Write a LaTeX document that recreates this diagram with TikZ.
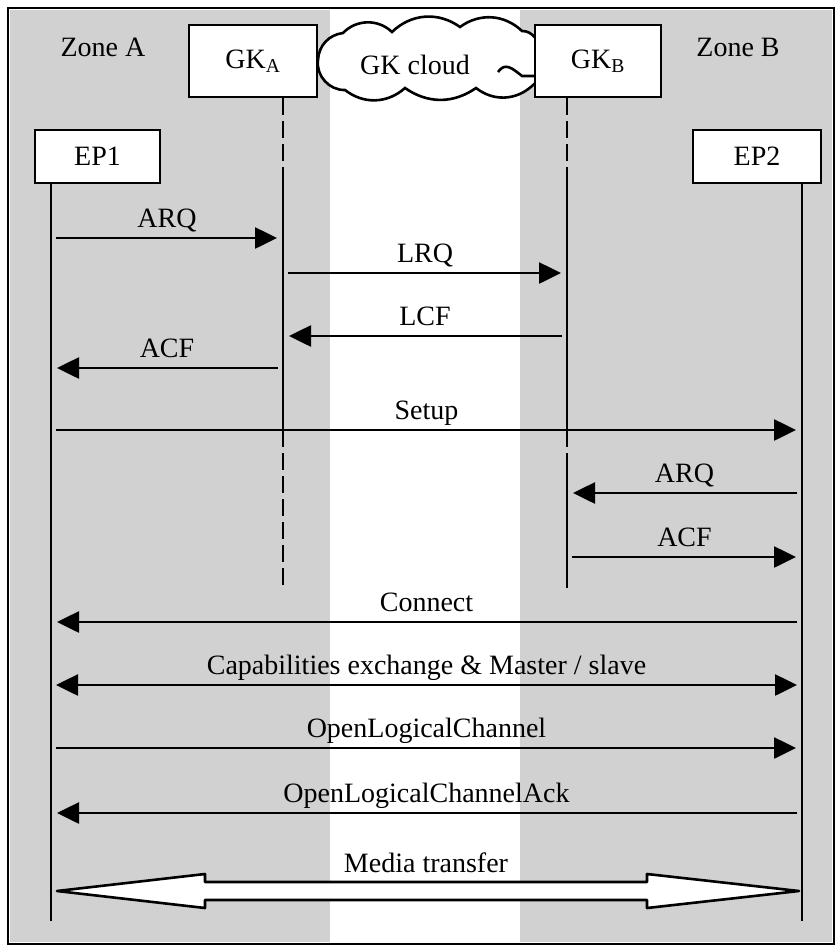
\documentclass[tikz,border=0pt]{standalone}
\usepackage{fontspec}
\setmainfont{Liberation Serif}
\usetikzlibrary{arrows.meta,calc}
\begin{document}
\begin{tikzpicture}[x=1pt,y=-1pt,
  every node/.style={font=\fontsize{28}{30}\selectfont},
  zone/.style={fill=black!18},
  actor/.style={draw,line width=2.6pt,fill=white,inner sep=0pt},
  life/.style={line width=2.6pt},
  lifedash/.style={line width=2.6pt,dash pattern=on 17pt off 6pt},
  msg/.style={line width=2.6pt,-{Triangle[length=22pt,width=21pt]},shorten <=5pt,shorten >=6pt},
  msgboth/.style={line width=2.6pt,{Triangle[length=22pt,width=21pt]}-{Triangle[length=22pt,width=21pt]},shorten <=5pt,shorten >=5pt},
  lbl/.style={midway,anchor=base,yshift=11pt,inner sep=0pt},
]
\useasboundingbox (0,0) rectangle (836,946);
% zones
\fill[zone] (10,10) rectangle (330,942);
\fill[zone] (520,10) rectangle (832,942);
\draw[line width=1.8pt] (8,8) rectangle (834,944);
\node (zoneA) at (103,47) {Zone A};
\node (zoneB) at (738,47) {Zone B};
% cloud
\draw[line width=2.6pt,fill=white]
  (318,60) to[bend left=40] (343,33) to[bend left=45] (392,32) to[bend left=40] (460,27)
  to[bend left=40] (522,31) to[bend left=55] (538,52) to[bend left=45] (532,86)
  to[bend left=40] (476,88) to[bend left=35] (405,88) to[bend left=40] (345,90)
  to[bend left=50] (318,60) -- cycle;
\draw[line width=2.6pt] (498,72) .. controls (505,62) and (512,68) .. (522,76) -- (540,76);
\node (cloudlbl) at (415,65) {GK cloud};
% actors
\node[actor,minimum width=128pt,minimum height=72pt] (gka) at (253,61) {GK\textsubscript{A}};
\node[actor,minimum width=126pt,minimum height=72pt] (gkb) at (598,61) {GK\textsubscript{B}};
\node[actor,minimum width=125pt,minimum height=53pt] (ep1) at (97.5,156.5) {EP1};
\node[actor,minimum width=128pt,minimum height=53pt] (ep2) at (757,156.5) {EP2};
% lifelines
\coordinate (ep1end) at (51,921);
\coordinate (ep2end) at (802,921);
\coordinate (gkaend) at (283,588);
\coordinate (gkbend) at (567,588);
\coordinate (ga1) at (283,183);
\coordinate (ga2) at (283,430);
\coordinate (gb1) at (567,183);
\coordinate (gb2) at (567,430);
\coordinate (gb3) at (567,470);
\draw[life] (ep1end |- ep1.south) -- (ep1end);
\draw[life] (ep2end |- ep2.south) -- (ep2end);
\draw[lifedash] (gkaend |- gka.south) -- (ga1);
\draw[life] (ga1) -- (ga2);
\draw[lifedash] (ga2) -- (gkaend);
\draw[lifedash] (gkbend |- gkb.south) -- (gb1);
\draw[life] (gb1) -- (gb2);
\draw[lifedash] (gb2) -- (gb3);
\draw[life] (gb3) -- (gkbend);
% message levels
\coordinate (yARQa) at (0,238);
\coordinate (yLRQ) at (0,273);
\coordinate (yLCF) at (0,336);
\coordinate (yACFa) at (0,368);
\coordinate (ySetup) at (0,430);
\coordinate (yARQb) at (0,493);
\coordinate (yACFb) at (0,557);
\coordinate (yConn) at (0,622);
\coordinate (yCap) at (0,685);
\coordinate (yOLC) at (0,748);
\coordinate (yOLCA) at (0,813);
\coordinate (yMedia) at (0,891);
% messages
\draw[msg] (ep1end |- yARQa) -- node[lbl]{ARQ} (gkaend |- yARQa);
\draw[msg] (gkaend |- yLRQ) -- node[lbl]{LRQ} (gkbend |- yLRQ);
\draw[msg] (gkbend |- yLCF) -- node[lbl]{LCF} (gkaend |- yLCF);
\draw[msg] (gkaend |- yACFa) -- node[lbl]{ACF} (ep1end |- yACFa);
\draw[msg] (ep1end |- ySetup) -- node[lbl]{Setup} (ep2end |- ySetup);
\draw[msg] (ep2end |- yARQb) -- node[lbl]{ARQ} (gkbend |- yARQb);
\draw[msg] (gkbend |- yACFb) -- node[lbl]{ACF} (ep2end |- yACFb);
\draw[msg] (ep2end |- yConn) -- node[lbl]{Connect} (ep1end |- yConn);
\draw[msgboth] (ep1end |- yCap) -- node[lbl]{Capabilities exchange \& Master / slave} (ep2end |- yCap);
\draw[msg] (ep1end |- yOLC) -- node[lbl]{OpenLogicalChannel} (ep2end |- yOLC);
\draw[msg] (ep2end |- yOLCA) -- node[lbl]{OpenLogicalChannelAck} (ep1end |- yOLCA);
% media transfer
\coordinate (mL) at ($(ep1end |- yMedia)+(6,0)$);
\coordinate (mR) at ($(ep2end |- yMedia)+(-3,0)$);
\draw[line width=2.6pt,fill=white,line join=round]
  (mL) -- ++(148,-17) -- ++(0,8) -- ($(mR)+(-152,-9)$) -- ++(0,-8) -- (mR)
  -- ++(-152,17) -- ++(0,-8) -- ($(mL)+(148,9)$) -- ++(0,8) -- cycle;
\node[anchor=base] (medialbl) at (426,872) {Media transfer};
\end{tikzpicture}
\end{document}
